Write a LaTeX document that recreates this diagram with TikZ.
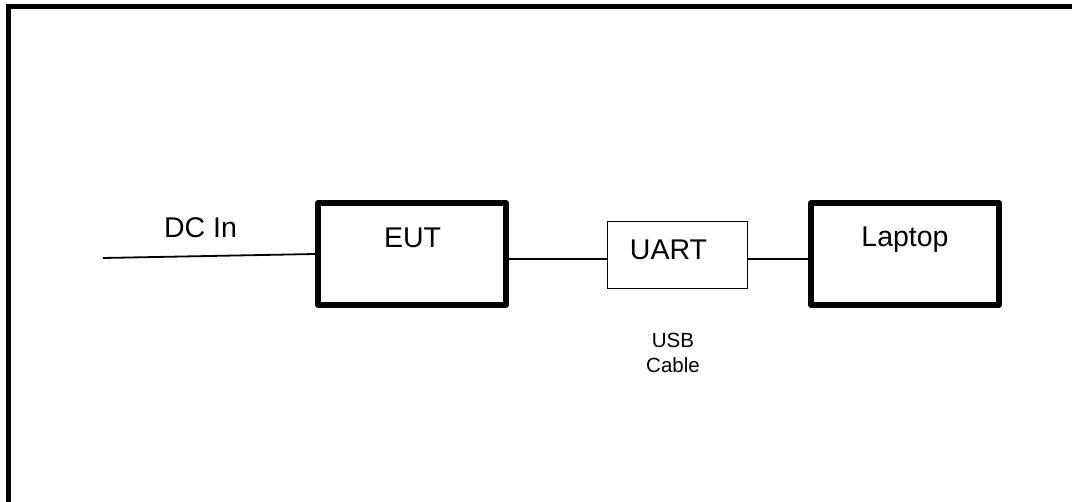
\documentclass[tikz,border=0pt]{standalone}
\usepackage{fontspec}
\setmainfont{Liberation Sans}
\usetikzlibrary{positioning}

\tikzset{
  heavybox/.style={draw, line width=5.5pt, line join=round, minimum width=188pt, minimum height=102pt, inner sep=0pt},
  lightbox/.style={draw, line width=1.5pt, minimum width=140pt, minimum height=67pt, inner sep=0pt},
  wire/.style={line width=1.8pt},
  boxtext/.style={anchor=base, inner sep=0pt, font=\fontsize{28.5}{34}\selectfont},
  smalltext/.style={anchor=north, inner sep=0pt, align=center, font=\fontsize{20.5}{25.5}\selectfont}
}

\begin{document}
\begin{tikzpicture}[x=1pt, y=-1pt]
    \useasboundingbox (0, 0) rectangle (1072, 502);
    % frame
    \draw [line width=5pt] (8.5, 502) -- (8.5, 6.5) -- (1072, 6.5);
    % blocks
    \node [heavybox] (eut) at (412, 254) {};
    \node [lightbox] (uart) at (677.5, 255) {};
    \node [heavybox] (laptop) at (905, 254) {};
    \coordinate (dcend) at (103, 258);
    % wires
    \draw [wire] (dcend) -- (eut.west);
    \draw [wire] ([yshift=-5pt]eut.east) -- ([yshift=-5pt]eut.east -| uart.west);
    \draw [wire] ([yshift=-4pt]uart.east) -- ([yshift=-4pt]uart.east -| laptop.west);
    % labels
    \node [boxtext] (dclabel) at (200.5, 238) {DC In};
    \node [boxtext] (eutlabel) at (412.5, 248) {EUT};
    \node [boxtext] (uartlabel) at (668.5, 260) {UART};
    \node [boxtext] (laptoplabel) at (905, 247) {Laptop};
    \node [smalltext] (usblabel) at (673, 332.5) {USB\\Cable};
\end{tikzpicture}
\end{document}
